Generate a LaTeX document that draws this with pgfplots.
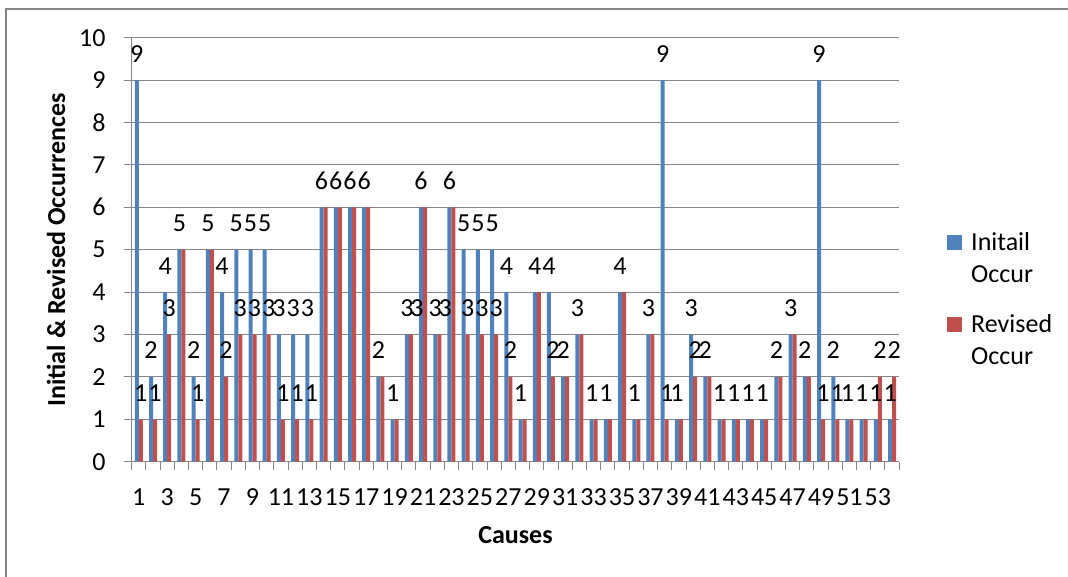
\documentclass[border=0pt]{standalone}
\usepackage{pgfplots}
\usepackage{pgfplotstable}
\pgfplotsset{compat=1.18}
\usepackage{fontspec}
\setmainfont{Carlito}

\definecolor{initblue}{RGB}{79,129,189}
\definecolor{revred}{RGB}{192,80,77}
\definecolor{gridgray}{RGB}{134,134,134}

% cause number, initial occurrences, revised occurrences,
% and the label printed above the revised bar
\pgfplotstableread{
c init rev revlab
1  9 1 1
2  2 1 1
3  4 3 3
4  5 5 {}
5  2 1 1
6  5 5 {}
7  4 2 2
8  5 3 3
9  5 3 3
10 5 3 3
11 3 1 1
12 3 1 1
13 3 1 1
14 6 6 {}
15 6 6 {}
16 6 6 {}
17 6 6 {}
18 2 2 {}
19 1 1 {}
20 3 3 {}
21 6 6 {}
22 3 3 {}
23 6 6 {}
24 5 3 3
25 5 3 3
26 5 3 3
27 4 2 2
28 1 1 {}
29 4 4 {}
30 4 2 2
31 2 2 {}
32 3 3 {}
33 1 1 {}
34 1 1 {}
35 4 4 {}
36 1 1 {}
37 3 3 {}
38 9 1 1
39 1 1 {}
40 3 2 2
41 2 2 {}
42 1 1 {}
43 1 1 {}
44 1 1 {}
45 1 1 {}
46 2 2 {}
47 3 3 {}
48 2 2 {}
49 9 1 1
50 2 1 1
51 1 1 {}
52 1 1 {}
53 1 2 2
54 1 2 2
}\causedata

\newcommand{\chartfont}{\fontsize{26}{32}\selectfont}

\begin{document}
\begin{tikzpicture}[x=1pt,y=1pt]
\path[use as bounding box] (0,0) rectangle (1068,577);
% chart area border
\draw[gridgray, line width=1.3pt] (6,-5) -- (6,568) -- (1075,568);
\begin{axis}[
  at={(131.7pt,115.3pt)}, anchor=south west,
  scale only axis, width=767.5pt, height=424pt,
  xmin=0.5, xmax=54.5, ymin=0, ymax=10,
  ybar=0pt, bar width=4pt,
  axis x line*=bottom, axis y line*=left,
  axis line style={gridgray, line width=1pt},
  xtick={1,3,...,53},
  minor xtick={0.5,1.5,...,54.5},
  ytick={0,1,...,10},
  ymajorgrids, grid style={gridgray, line width=1pt},
  tick align=outside,
  major tick length=8pt, minor tick length=8pt,
  tick style={gridgray, line width=1pt},
  major x tick style={draw=none},
  /pgf/number format/assume math mode=true,
  tick label style={font=\chartfont, text=black},
  yticklabel style={anchor=east, inner sep=0pt, xshift=-18pt},
  xticklabel style={anchor=base, inner sep=0pt, yshift=-36pt},
  xlabel={\bfseries Causes},
  ylabel={\bfseries Initial \& Revised Occurrences},
  label style={font=\chartfont},
  xlabel style={at={(axis description cs:0.5,-0.1934)}, anchor=base},
  ylabel style={at={(axis description cs:-0.0869,0.5)}, anchor=base, rotate=0},
  every node near coord/.append style={font=\chartfont, anchor=base, inner sep=0pt, yshift=18pt, text=black},
  legend style={at={(axis description cs:1.0623,0.546)}, anchor=north west, draw=none, fill=none,
    font=\chartfont, cells={align=left, anchor=west}, row sep=27pt, column sep=7pt, inner sep=0pt},
  legend image code/.code={\fill[#1, draw=none] (0pt,8.5pt) rectangle (15pt,23.5pt);},
]
\addplot[fill=initblue, draw=none, bar shift=-2pt] table[x=c, y=init] {\causedata};
\addlegendentry{Initail\\Occur}
\addplot[fill=revred, draw=none, bar shift=2pt] table[x=c, y=rev] {\causedata};
\addlegendentry{Revised\\Occur}
% value labels, drawn above all bars
\addplot[draw=none, fill=none, bar shift=2pt, forget plot,
  nodes near coords, point meta=explicit symbolic] table[x=c, y=rev, meta=revlab] {\causedata};
\addplot[draw=none, fill=none, bar shift=8pt, forget plot, nodes near coords]
  coordinates {(20,3) (22,3)};
\addplot[draw=none, fill=none, bar shift=-2pt, forget plot, nodes near coords] table[x=c, y=init] {\causedata};
\end{axis}
\end{tikzpicture}
\end{document}
